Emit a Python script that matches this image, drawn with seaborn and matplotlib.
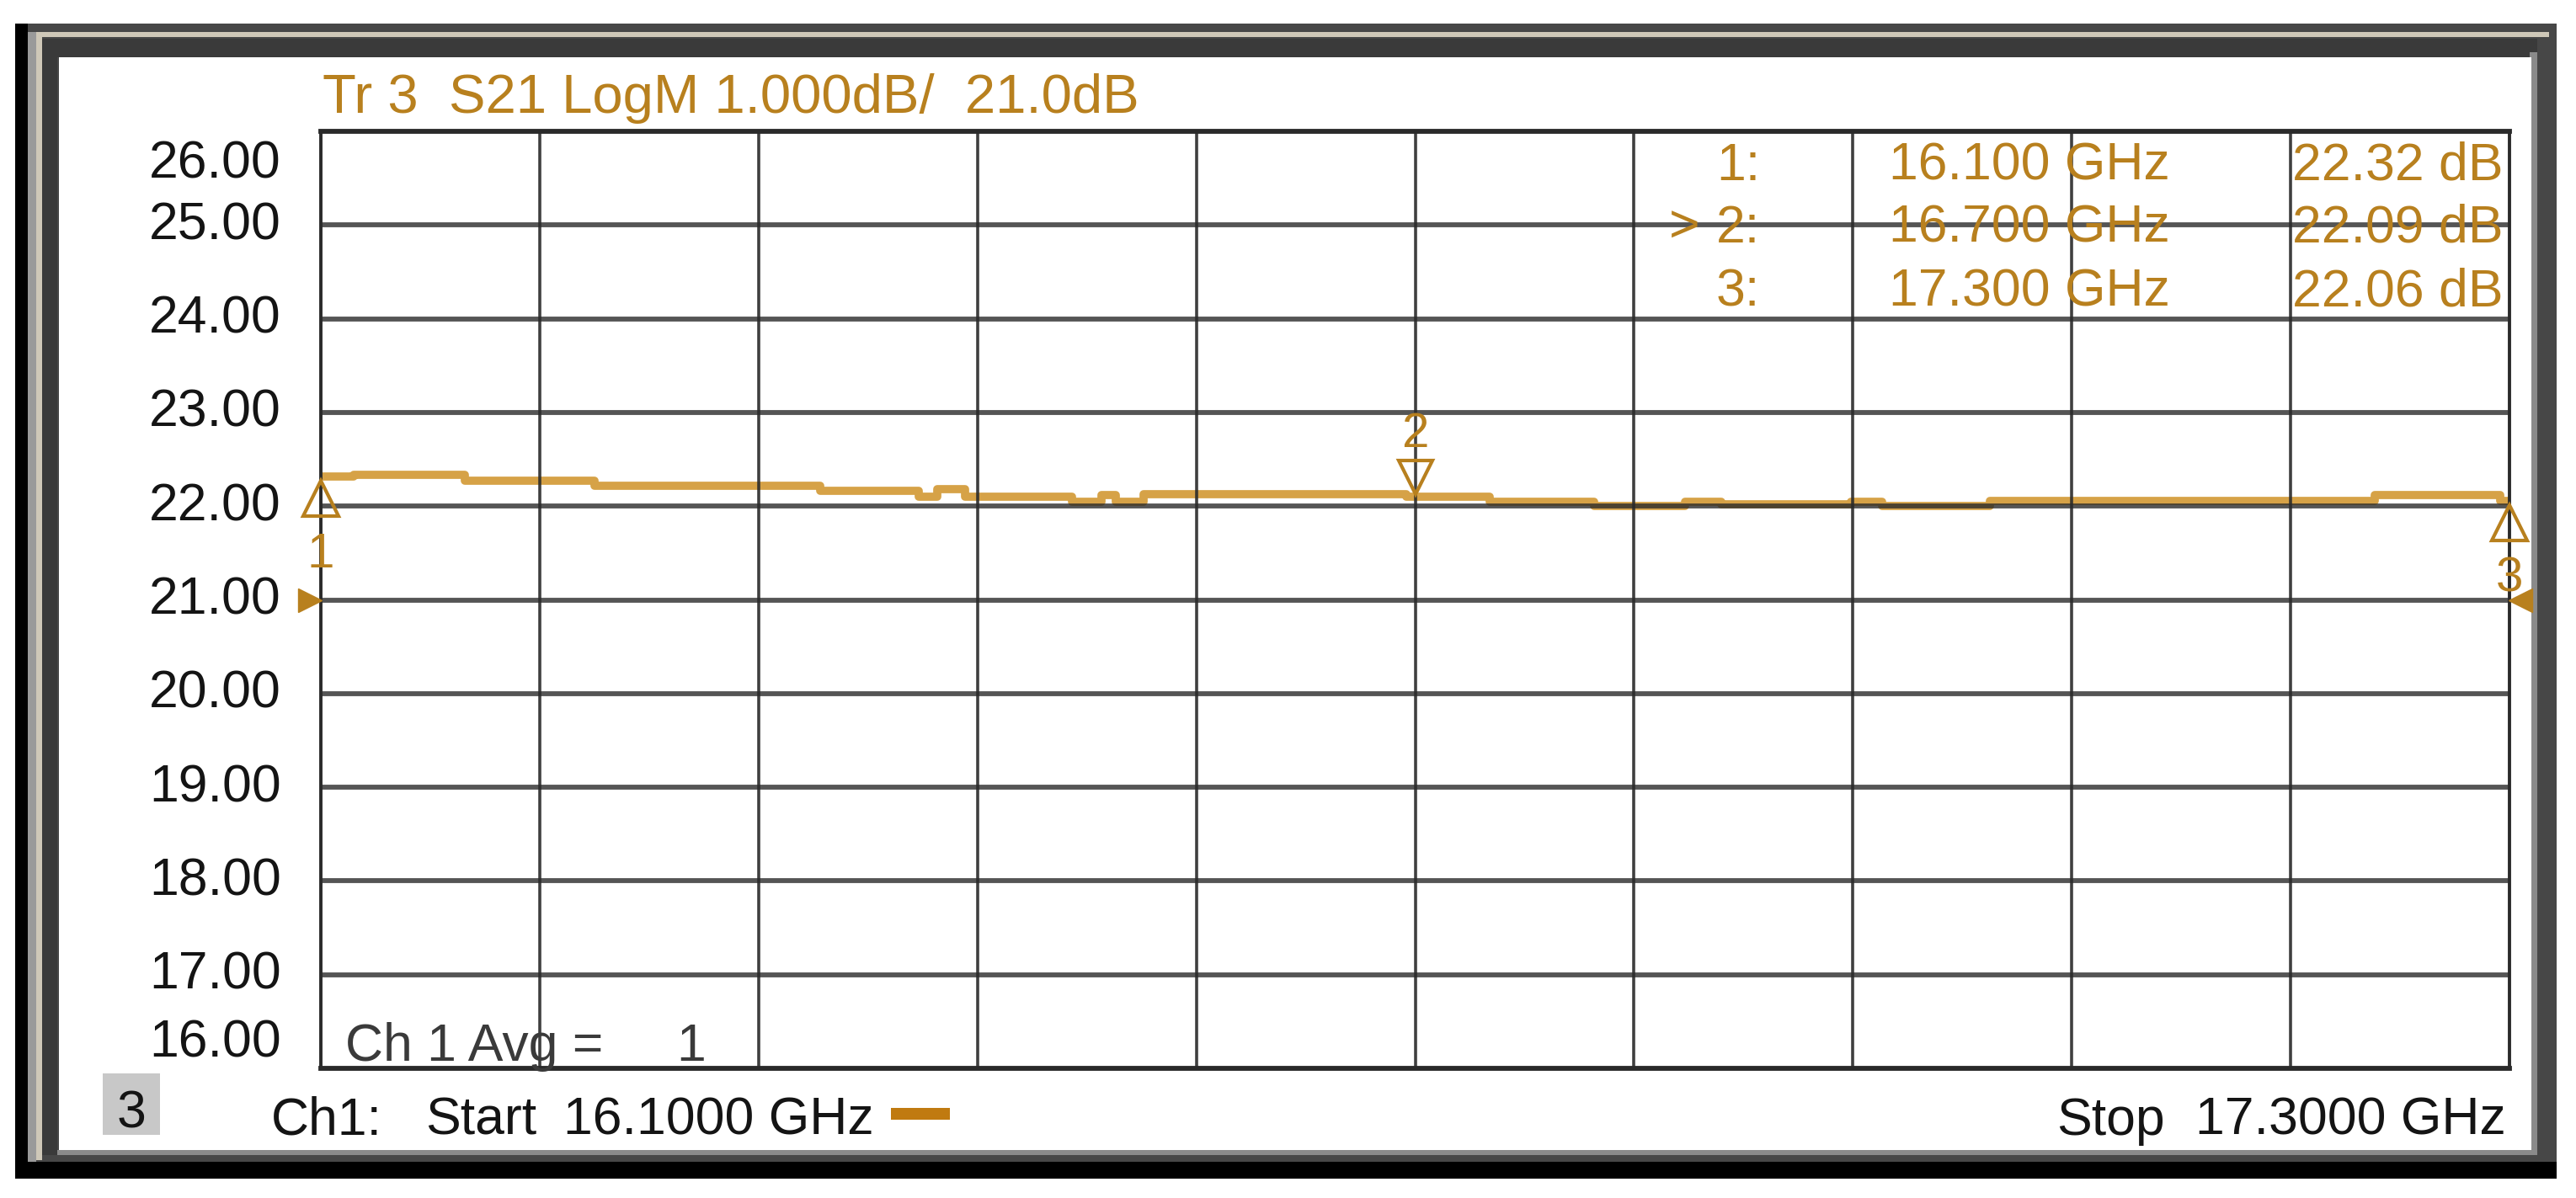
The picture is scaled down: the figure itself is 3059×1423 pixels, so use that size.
import numpy as np
import pandas as pd
import seaborn as sns
import matplotlib
matplotlib.use("Agg")
import matplotlib.pyplot as plt
from matplotlib.patches import Rectangle
from matplotlib import transforms

# ---------------- data ----------------
freq_ghz = [16.100, 16.118, 16.179, 16.250, 16.374, 16.428, 16.438, 16.453,
            16.512, 16.528, 16.536, 16.551, 16.695, 16.741, 16.798, 16.848,
            16.868, 16.939, 16.956, 17.015, 17.226, 17.295, 17.300]
s21_db = [22.32, 22.33, 22.27, 22.22, 22.16, 22.10, 22.18, 22.10,
          22.05, 22.12, 22.05, 22.13, 22.10, 22.05, 22.00, 22.05,
          22.02, 22.05, 22.00, 22.06, 22.12, 22.06, 22.06]
marker_ids = ["1", "2", "3"]
marker_freq = [16.100, 16.700, 17.300]
marker_db = [22.32, 22.09, 22.06]
marker_freq_txt = ["16.100 GHz", "16.700 GHz", "17.300 GHz"]
marker_db_txt = ["22.32 dB", "22.09 dB", "22.06 dB"]
y_ticks = [26, 25, 24, 23, 22, 21, 20, 19, 18, 17, 16]
y_tick_labels = ["26.00", "25.00", "24.00", "23.00", "22.00", "21.00",
                 "20.00", "19.00", "18.00", "17.00", "16.00"]
f_start, f_stop = 16.1, 17.3
ref_level = 21.0
title_txt = "Tr 3  S21 LogM 1.000dB/  21.0dB"

# ---------------- style ----------------
sns.set_theme(style="white")
FAM = ["Liberation Sans Narrow", "Liberation Sans", "DejaVu Sans"]
plt.rcParams["font.family"] = FAM
FS = 45

W, H = 3059, 1423
DPI = 100
fig = plt.figure(figsize=(W / DPI, H / DPI), dpi=DPI)
fig.patch.set_facecolor("white")

def fx(px):
    return px / W

def fy(py):
    return 1 - py / H

def frect(x0, y0, x1, y1, color, z=0):
    fig.add_artist(Rectangle((fx(x0), fy(y1)), fx(x1) - fx(x0), fy(y0) - fy(y1),
                             transform=fig.transFigure, facecolor=color,
                             edgecolor="none", zorder=z))

# instrument frame
frect(18, 28, 3036, 1400, "#000000", -10)
frect(33, 28, 3036, 1380, "#474747", -9)
frect(33, 38, 43, 1380, "#9a9a9a", -8)
frect(43, 38, 3027, 44, "#cfc8b8", -8)
frect(43, 38, 50, 1378, "#cfc8b8", -8)
frect(50, 46, 3013, 68, "#3a3a3a", -7)
frect(50, 46, 68, 1372, "#3a3a3a", -7)
frect(68, 1366, 3013, 1372, "#8a8a8a", -7)
frect(3004, 62, 3013, 1372, "#8a8a8a", -7)
frect(70, 68, 3006, 1366, "#ffffff", -5)

ORANGE_TR = "#d6a247"
ORANGE_TX = "#b8801e"
GRID = "#2a2a2a"

L, R, T, B = 381, 2980, 156, 1269
ax = fig.add_axes([fx(L), fy(B), fx(R) - fx(L), fy(T) - fy(B)])
ax.set_facecolor("none")

df = pd.DataFrame({"freq": freq_ghz, "db": s21_db})
sns.lineplot(data=df, x="freq", y="db", ax=ax, color=ORANGE_TR, linewidth=7,
             drawstyle="steps-post", estimator=None, sort=False, zorder=2)

ax.set_xlim(f_start, f_stop)
ax.set_ylim(16, 26)
xt = [f_start + i * (f_stop - f_start) / 10 for i in range(11)]
ax.set_xticks(xt)
ax.set_yticks(y_ticks)
ax.tick_params(left=False, bottom=False, labelleft=False, labelbottom=False)
ax.set_xlabel("")
ax.set_ylabel("")
for v in xt[1:-1]:
    ax.axvline(v, color=GRID, lw=2.6, alpha=0.9, zorder=3)
for v in y_ticks[1:-1]:
    ax.axhline(v, color=GRID, lw=4.2, alpha=0.8, zorder=3)
for side, sp in ax.spines.items():
    sp.set_visible(True)
    sp.set_color(GRID)
    sp.set_zorder(3)
    sp.set_linewidth(4.2 if side in ("top", "bottom") else 2.8)

# y tick labels (drawn as text, end labels pulled inside)
blend = transforms.blended_transform_factory(fig.transFigure, ax.transData)
for v, lab in zip(y_ticks, y_tick_labels):
    if v == 26:
        off = -55
    elif v == 16:
        off = 14
    else:
        off = -17
    ax.annotate(lab, xy=(fx(334), v), xycoords=blend, xytext=(0, off),
                textcoords="offset pixels", ha="right", va="baseline",
                fontsize=FS, color="#141414", annotation_clip=False)

# markers on trace
for mid, mf, md in zip(marker_ids, marker_freq, marker_db):
    if mid == "2":
        tr = transforms.offset_copy(ax.transData, fig=fig, x=0, y=24, units="dots")
        ax.plot([mf], [md], marker="v", ms=29, mfc="none", mec=ORANGE_TX, mew=3,
                transform=tr, clip_on=False, zorder=5)
        ax.annotate(mid, xy=(mf, md), xytext=(0, 60), textcoords="offset pixels",
                    ha="center", va="baseline", fontsize=42, color=ORANGE_TX,
                    annotation_clip=False, zorder=5)
    else:
        tr = transforms.offset_copy(ax.transData, fig=fig, x=0, y=-26, units="dots")
        ax.plot([mf], [md], marker="^", ms=30, mfc="none", mec=ORANGE_TX, mew=3,
                transform=tr, clip_on=False, zorder=5)
        ax.annotate(mid, xy=(mf, md), xytext=(0, -108), textcoords="offset pixels",
                    ha="center", va="baseline", fontsize=42, color=ORANGE_TX,
                    annotation_clip=False, zorder=5)

# reference level arrows
tr_l = transforms.offset_copy(ax.transData, fig=fig, x=-13, y=0, units="dots")
ax.plot([f_start], [ref_level], marker=">", ms=20, color=ORANGE_TX, transform=tr_l,
        clip_on=False, zorder=5)
tr_r = transforms.offset_copy(ax.transData, fig=fig, x=13, y=0, units="dots")
ax.plot([f_stop], [ref_level], marker="<", ms=20, color=ORANGE_TX, transform=tr_r,
        clip_on=False, zorder=5)

# title
fig.text(fx(383), fy(134), title_txt, ha="left", va="baseline", fontsize=47,
         color=ORANGE_TX)

# marker table
row_base = [214, 288, 364]
for i, (mid, ftx, dtx) in enumerate(zip(marker_ids, marker_freq_txt, marker_db_txt)):
    yb = fy(row_base[i])
    if mid == "2":
        fig.text(fx(1982), yb, ">", ha="left", va="baseline", fontsize=FS,
                 color=ORANGE_TX, zorder=6)
    fig.text(fx(2038), yb, mid + ":", ha="left", va="baseline", fontsize=FS,
             color=ORANGE_TX, zorder=6)
    fig.text(fx(2243), yb, ftx, ha="left", va="baseline", fontsize=FS,
             color=ORANGE_TX, zorder=6)
    fig.text(fx(2972), yb, dtx, ha="right", va="baseline", fontsize=FS,
             color=ORANGE_TX, zorder=6)

# averaging annotation
fig.text(fx(410), fy(1260), "Ch 1 Avg =", ha="left", va="baseline", fontsize=FS,
         color="#3a3a3a", zorder=6)
fig.text(fx(838), fy(1260), "1", ha="right", va="baseline", fontsize=FS,
         color="#3a3a3a", zorder=6)

# bottom status line
frect(122, 1275, 190, 1348, "#c8c8c8", 1)
fig.text(fx(156), fy(1340), "3", ha="center", va="baseline", fontsize=FS,
         color="#141414")
fig.text(fx(322), fy(1348), "Ch1:", ha="left", va="baseline", fontsize=FS,
         color="#141414")
fig.text(fx(505), fy(1348), "Start", ha="left", va="baseline", fontsize=FS,
         color="#141414")
fig.text(fx(669), fy(1348), "16.1000 GHz", ha="left", va="baseline", fontsize=FS,
         color="#141414")
frect(1058, 1316, 1128, 1330, "#c07a10", 1)
fig.text(fx(2442), fy(1348), "Stop", ha="left", va="baseline", fontsize=FS,
         color="#141414")
fig.text(fx(2976), fy(1348), "17.3000 GHz", ha="right", va="baseline", fontsize=FS,
         color="#141414")

fig.savefig("out.png", dpi=DPI, facecolor="white")
